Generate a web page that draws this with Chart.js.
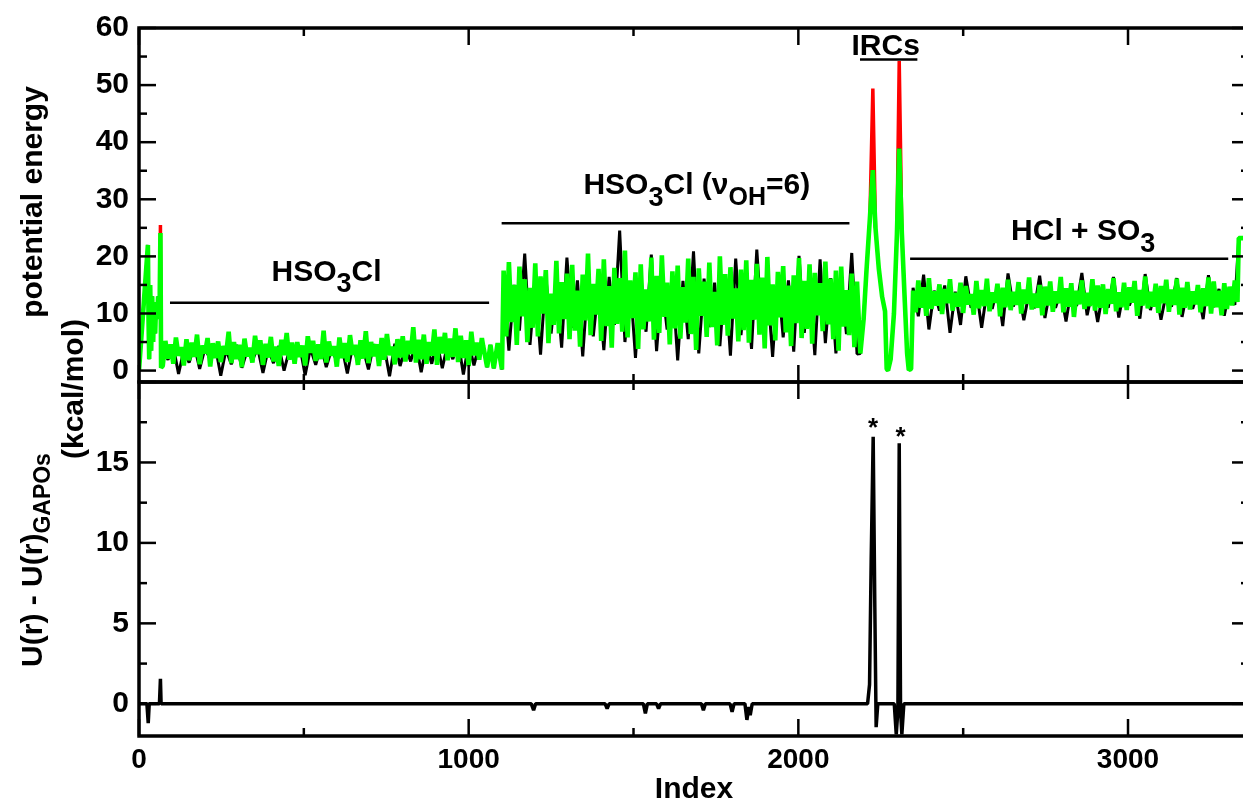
<!DOCTYPE html>
<html>
<head>
<meta charset="utf-8">
<script src="https://cdn.jsdelivr.net/npm/chart.js@4/dist/chart.umd.min.js"></script>
<style>
  html, body { margin: 0; padding: 0; overflow: hidden; background: #fff; }
  canvas { display: block; }
</style>
</head>
<body>
<canvas id="energyChart" width="1250" height="805"></canvas>
<script>
    'use strict';

    const FONT = '"Liberation Sans", Arial, Helvetica, sans-serif';
    const X_MAX = 3367;

    // tick labels
    const xTicks = [0, 1000, 2000, 3000];
    const xMinor = [500, 1500, 2500];
    const topTicks = [0, 10, 20, 30, 40, 50, 60];
    const topMinor = [5, 15, 25, 35, 45, 55];
    const botTicks = [0, 5, 10, 15];
    const botMinor = [2.5, 7.5, 12.5, 17.5];

    // first trajectory start (shared by black and green)
    const startIdx = [0, 27, 29, 31, 34, 37, 40, 43, 46, 49, 52, 55, 58, 61, 63, 65, 67];
    const startVals = [0, 22, 8.6, 2, 15, 3.5, 13, 5, 12, 6.5, 12, 9, 13, 11, 14, 24.1, 0.5];

    // HSO3Cl region, green sampled every 8, black every 16 (from index 72)
    const greenHSO = [
        0.8, 5.2, 2.1, 4.6, 1.2, 5.8, 2.6, 4.1, 0.9, 5.5,
        1.8, 4.9, 2.4, 6.3, 1.1, 4.4, 3.0, 5.7, 0.7, 4.8,
        2.2, 5.1, 1.5, 4.3, 2.8, 6.8, 1.3, 5.0, 2.0, 4.5,
        0.6, 5.6, 2.5, 4.0, 1.4, 6.1, 2.9, 5.3, 1.0, 4.7,
        2.3, 5.9, 1.6, 4.2, 0.8, 5.4, 2.7, 6.6, 1.9, 4.9,
        1.2, 5.0, 2.4, 4.4, 0.9, 6.0, 3.1, 5.2, 1.7, 4.6,
        2.0, 7.0, 1.4, 5.1, 2.6, 4.3, 0.7, 5.8, 2.2, 4.8,
        1.5, 6.2, 2.8, 4.5, 1.0, 5.3, 2.1, 6.9, 1.3, 5.0,
        2.5, 4.6, 0.8, 5.7, 1.9, 6.4, 2.7, 4.2, 1.1, 5.5,
        2.3, 6.0, 1.6, 5.2, 2.9, 7.6, 1.4, 5.4, 2.0, 6.3,
        1.2, 5.0, 2.6, 7.2, 1.0, 5.9, 3.0, 6.6, 1.8, 5.6,
        2.4, 7.4, 1.5, 6.1, 2.2, 5.3, 0.8, 6.8, 2.7, 4.9,
        1.9, 5.7
    ];
    const blackHSO = [
        3.8, 1.9, 4.2, -0.6, 3.6, 1.4, 4.4, 0.3, 3.9, 2.0,
        4.1, -0.9, 3.7, 1.1, 4.5, 0.5, 3.5, 1.8, 4.0, -0.4,
        3.8, 1.3, 4.3, 0.0, 3.6, 2.1, 4.2, -0.8, 3.9, 1.0,
        4.4, 0.6, 3.7, 1.7, 4.0, -0.5, 4.3, 1.5, 3.8, 0.2,
        4.6, 1.9, 4.1, -1.0, 4.7, 0.8, 4.2, 1.6, 4.9, -0.3,
        4.5, 1.2, 5.0, 0.4, 4.6, 2.0, 5.2, -0.7, 4.8, 0.9,
        4.5
    ];

    // damped wave before the excitation (shared)
    const waveIdx = [1044, 1050, 1056, 1061, 1066, 1071, 1076, 1082, 1088, 1094, 1101];
    const waveVals = [4.3, 2.5, 0.6, 2.5, 4.5, 2.5, 0.4, 2.6, 4.8, 2.6, 0.2];

    // HSO3Cl (vOH=6) region, from index 1106
    const greenExc = [
        17.5, 6.0, 19.0, 8.5, 15.0, 4.5, 18.2, 9.5, 16.0, 5.0,
        14.5, 7.5, 18.8, 6.0, 16.5, 10.0, 17.6, 4.8, 13.5, 8.0,
        19.2, 6.5, 15.5, 9.0, 17.0, 5.5, 18.5, 7.0, 14.0, 4.2,
        16.8, 8.8, 20.5, 6.2, 15.2, 9.8, 17.8, 5.2, 19.5, 7.8,
        14.8, 4.0, 18.0, 8.2, 16.2, 6.8, 21.0, 5.8, 15.8, 9.2,
        17.2, 3.8, 18.6, 7.2, 14.2, 8.6, 19.8, 5.4, 16.6, 6.6,
        20.2, 9.4, 15.4, 4.6, 17.4, 7.4, 18.4, 5.6, 14.6, 8.4,
        19.6, 6.4, 16.4, 3.6, 17.9, 9.6, 15.6, 5.9, 18.9, 7.6,
        13.8, 4.4, 20.0, 8.0, 16.9, 6.1, 18.1, 9.1, 14.4, 5.1,
        17.7, 7.1, 19.3, 4.9, 15.9, 8.9, 18.7, 6.3, 16.3, 3.9,
        19.9, 7.9, 15.1, 5.3, 17.3, 9.3, 18.3, 6.7, 14.9, 4.3,
        16.7, 8.3, 19.7, 5.7, 15.7, 7.3, 18.6, 4.7, 17.1, 9.7,
        15.3, 6.9, 19.1, 8.1, 16.1, 5.5, 17.5, 3.5, 18.2, 7.7,
        14.1, 6.2, 17.0, 4.1, 15.6
    ];
    const blackExc = [
        16.0, 3.5, 15.0, 7.0, 20.5, 4.5, 15.5, 2.8, 16.5, 6.5,
        15.2, 4.0, 19.8, 7.5, 15.8, 2.5, 16.2, 6.0, 15.0, 3.6,
        16.4, 8.0, 24.5, 5.0, 15.6, 2.2, 16.8, 6.8, 20.3, 3.4,
        15.3, 7.2, 16.0, 1.8, 15.7, 5.5, 20.9, 3.0, 16.1, 7.6,
        15.4, 4.3, 16.6, 2.6, 19.6, 6.2, 15.9, 3.8, 21.2, 7.0,
        15.1, 2.4, 16.3, 5.8, 15.8, 3.3, 20.1, 6.6, 16.0, 2.7,
        19.5, 4.8, 16.2, 3.0, 15.5, 6.4, 20.6, 2.9
    ];

    // IRC paths (shared by black and green)
    const ircIdx = [2188, 2198, 2207, 2217, 2226, 2234, 2244, 2254, 2263, 2268, 2272,
        2280, 2290, 2299, 2306, 2314, 2323, 2330, 2335, 2342];
    const ircVals = [3, 9, 17.8, 26.6, 35.1, 25, 17.9, 13, 10.4, 0.3, 0,
        2, 10, 23.8, 38.9, 24, 12, 3, 0.1, 0.3];

    // red reference energies where they stand above green
    const redIdx = [61, 63, 65, 67, null, 2217, 2226, 2234, null, 2299, 2306, 2314];
    const redVals = [11, 14, 25.5, 0.5, null, 26.6, 49.4, 25, null, 23.8, 54.2, 24];

    // HCl + SO3 region, from index 2348
    const greenProd = [
        14.0, 10.2, 15.8, 11.0, 14.6, 9.6, 16.2, 10.8, 13.9, 11.4,
        15.1, 9.9, 14.3, 11.8, 16.0, 10.5, 13.6, 11.2, 15.4, 10.1,
        14.8, 11.6, 13.4, 9.8, 15.7, 10.9, 14.1, 11.3, 16.1, 10.4,
        13.7, 11.9, 15.2, 9.5, 14.5, 11.1, 15.9, 10.6, 13.8, 11.5,
        15.5, 10.0, 14.2, 11.7, 16.3, 10.7, 13.5, 11.0, 15.0, 9.7,
        14.7, 11.4, 15.6, 10.3, 13.9, 11.8, 16.4, 10.2, 14.4, 11.2,
        15.3, 9.4, 14.0, 11.6, 15.8, 10.8, 13.6, 11.3, 16.0, 10.5,
        14.9, 11.0, 15.1, 9.9, 14.3, 11.7, 16.2, 10.4, 13.7, 11.1,
        15.4, 10.6, 14.6, 11.9, 15.7, 9.6, 14.1, 11.4, 16.5, 10.9,
        13.8, 11.2, 15.2, 10.1, 14.8, 11.8, 15.9, 10.3, 14.2, 11.5,
        16.1, 9.8, 14.5, 11.0, 15.5, 10.7, 13.9, 11.6, 15.0, 10.2,
        14.4, 11.3, 16.3, 10.0, 15.6, 11.1, 14.0, 9.7, 15.3, 10.8,
        14.7, 11.4, 15.8, 12.0
    ];
    const blackProd = [
        14.5, 9.5, 16.8, 7.2, 14.0, 10.5, 14.9, 6.6, 13.8, 8.0,
        16.5, 11.0, 14.2, 7.5, 13.9, 10.8, 14.6, 7.8, 17.0, 11.2,
        14.1, 8.8, 13.7, 10.9, 16.6, 9.2, 14.3, 11.0, 13.9, 8.6,
        14.4, 11.3, 17.1, 9.7, 14.0, 8.5, 13.8, 11.0, 16.4, 9.3,
        14.2, 11.4, 13.9, 9.1, 16.9, 10.6, 14.5, 8.9, 13.6, 11.2,
        16.2, 9.4, 14.1, 10.8, 13.8, 9.0, 16.7, 11.1, 14.3, 9.6,
        14.2, 11.5
    ];

    // last trajectory start at the right edge
    const endIdx = [3336, 3367];
    const endVals = [23.2, 23.2];

    // bottom panel: U(r) - U(r)GAPOs
    const diffIdx = [0, 24, 28, 31, 62, 65, 67, 1190, 1197, 1203, 1414, 1420, 1426,
        1530, 1536, 1542, 1570, 1576, 1582, 1706, 1712, 1718, 1793, 1799, 1805,
        1838, 1844, 1850, 1854, 1860, 2210, 2216, 2221, 2227, 2232, 2236, 2241,
        2291, 2297, 2302, 2306, 2310, 2314, 2320, 3367];
    const diffVals = [0, 0, -1.2, 0, 0, 1.55, 0, 0, -0.4, 0, 0, -0.3, 0,
        0, -0.6, 0, 0, -0.3, 0, 0, -0.4, 0, 0, -0.5, 0,
        0, -1.0, -0.2, -0.7, 0, 0, 1.2, 9, 16.6, 6, -1.45, 0,
        0, -1.9, -0.4, 16.2, -0.4, -1.9, 0, 0];

    // annotations (data units)
    const notes = [
        { parts: [['HSO', 0], ['3', 1], ['Cl', 0]], x: 569, y: 15.7 },
        { parts: [['HSO', 0], ['3', 1], ['Cl (', 0], ['\u03BD', 0], ['OH', 2], ['=6)', 0]], x: 1692, y: 30.9 },
        { parts: [['IRCs', 0]], x: 2265, y: 55.3 },
        { parts: [['HCl + SO', 0], ['3', 1]], x: 2864, y: 22.8 }
    ];
    const bars = [[94, 1062, 11.9], [1100, 2155, 25.8], [2187, 2361, 54.5], [2339, 3304, 19.6]];
    const stars = [[2227, 17.4], [2310, 16.8]];

    function pts(idx, vals) {
        return idx.map((x, i) => ({ x: x, y: vals[i] }));
    }
    function stepIdx(start, step, n) {
        return Array.from({ length: n }, (_, i) => start + i * step);
    }

    const greenData = [].concat(
        pts(startIdx, startVals),
        pts(stepIdx(72, 8, greenHSO.length), greenHSO),
        pts(waveIdx, waveVals),
        pts(stepIdx(1106, 8, greenExc.length), greenExc),
        pts(ircIdx, ircVals),
        pts(stepIdx(2348, 8, greenProd.length), greenProd),
        pts(endIdx, endVals)
    );
    const blackData = [].concat(
        pts(startIdx, startVals),
        pts(stepIdx(72, 16, blackHSO.length), blackHSO),
        pts(waveIdx, waveVals),
        pts(stepIdx(1106, 16, blackExc.length), blackExc),
        pts(ircIdx, ircVals),
        pts(stepIdx(2348, 16, blackProd.length), blackProd),
        pts(endIdx, endVals)
    );
    // null entries break the red line between its visible pieces
    const redData = redIdx.map((x, i) => ({ x: x === null ? redIdx[i - 1] + 1 : x, y: redVals[i] }));

    function richText(ctx, parts, x, y) {
        const sizes = [30, 27, 25];
        const drops = [0, 11.5, 11];
        let w = 0;
        parts.forEach(([t, k]) => { ctx.font = 'bold ' + sizes[k] + 'px ' + FONT; w += ctx.measureText(t).width; });
        let xx = x - w / 2;
        ctx.textAlign = 'left';
        ctx.textBaseline = 'alphabetic';
        parts.forEach(([t, k]) => {
            ctx.font = 'bold ' + sizes[k] + 'px ' + FONT;
            ctx.fillText(t, xx, y + drops[k]);
            xx += ctx.measureText(t).width;
        });
    }

    const framePlugin = {
        id: 'frame',
        afterDatasetsDraw(chart) {
            const { ctx, chartArea: a, scales } = chart;
            const sx = scales.x;
            ctx.save();
            ctx.strokeStyle = '#000';
            const tick = (px, py, dx, dy) => {
                ctx.beginPath(); ctx.moveTo(px, py); ctx.lineTo(px + dx, py + dy); ctx.stroke();
            };
            [[scales.yTop, topTicks, topMinor], [scales.yBot, botTicks.concat([20]), botMinor]].forEach(([sy, major, minor]) => {
                ctx.lineWidth = 2.5;
                xTicks.forEach(v => { const p = sx.getPixelForValue(v); tick(p, sy.bottom, 0, -17); tick(p, sy.top, 0, 17); });
                xMinor.forEach(v => { const p = sx.getPixelForValue(v); tick(p, sy.bottom, 0, -8); tick(p, sy.top, 0, 8); });
                major.forEach(v => { const p = sy.getPixelForValue(v); tick(a.left, p, 17, 0); tick(a.right, p, -17, 0); });
                minor.forEach(v => { const p = sy.getPixelForValue(v); tick(a.left, p, 8, 0); tick(a.right, p, -8, 0); });
                ctx.lineWidth = 3.5;
                ctx.strokeRect(a.left, sy.top, a.right - a.left, sy.bottom - sy.top);
            });
            ctx.restore();
        },
        afterDraw(chart) {
            const { ctx, scales } = chart;
            const sx = scales.x, sy = scales.yTop, sb = scales.yBot;
            ctx.save();
            ctx.fillStyle = '#000';
            ctx.strokeStyle = '#000';
            ctx.lineWidth = 2.5;
            bars.forEach(([x0, x1, y]) => {
                const py = sy.getPixelForValue(y);
                ctx.beginPath(); ctx.moveTo(sx.getPixelForValue(x0), py); ctx.lineTo(sx.getPixelForValue(x1), py); ctx.stroke();
            });
            notes.forEach(n => richText(ctx, n.parts, sx.getPixelForValue(n.x), sy.getPixelForValue(n.y)));

            ctx.font = 'bold 26px ' + FONT;
            ctx.textAlign = 'center';
            ctx.textBaseline = 'alphabetic';
            stars.forEach(([x, y]) => ctx.fillText('*', sx.getPixelForValue(x), sb.getPixelForValue(y) + 12));

            // y axis titles, rotated
            const rot = (bx, cy, parts) => {
                ctx.save();
                ctx.translate(bx, cy);
                ctx.rotate(-Math.PI / 2);
                let w = 0;
                parts.forEach(([t, s]) => { ctx.font = 'bold ' + (s ? 23 : 30) + 'px ' + FONT; w += ctx.measureText(t).width; });
                let xx = -w / 2;
                ctx.textAlign = 'left';
                parts.forEach(([t, s]) => {
                    ctx.font = 'bold ' + (s ? 23 : 30) + 'px ' + FONT;
                    ctx.fillText(t, xx, s ? 8 : 0);
                    xx += ctx.measureText(t).width;
                });
                ctx.restore();
            };
            rot(42, 202, [['potential energy', 0]]);
            rot(83, 389, [['(kcal/mol)', 0]]);
            rot(42, 560, [['U(r) - U(r)', 0], ['GAPOs', 1]]);
            ctx.restore();
        }
    };

    const tickFont = { family: FONT, size: 30, weight: 'bold' };

    new Chart(document.getElementById('energyChart'), {
        type: 'line',
        data: {
            datasets: [
                { label: 'red', data: redData, yAxisID: 'yTop', borderColor: '#ff0000', borderWidth: 3.5, order: 3 },
                { label: 'black', data: blackData, yAxisID: 'yTop', borderColor: '#000000', borderWidth: 3, order: 2 },
                { label: 'green', data: greenData, yAxisID: 'yTop', borderColor: '#00ff00', borderWidth: 4.6, order: 1 },
                { label: 'diff', data: pts(diffIdx, diffVals), yAxisID: 'yBot', borderColor: '#000000', borderWidth: 3.5, order: 0 }
            ]
        },
        options: {
            responsive: false,
            animation: false,
            devicePixelRatio: 1,
            layout: { padding: { top: 25, right: 1, bottom: 0, left: 0 } },
            plugins: { legend: { display: false }, tooltip: { enabled: false } },
            elements: {
                point: { radius: 0 },
                line: { tension: 0, borderJoinStyle: 'bevel', fill: false }
            },
            scales: {
                x: {
                    type: 'linear', min: 0, max: X_MAX, position: 'bottom',
                    grid: { display: false, drawTicks: false }, border: { display: false },
                    afterBuildTicks: s => { s.ticks = xTicks.map(v => ({ value: v })); },
                    afterFit: s => { s.height = 69; },
                    ticks: { font: { family: FONT, size: 28, weight: 'bold' }, color: '#000', padding: 7, maxRotation: 0, autoSkip: false, callback: v => String(v) },
                    title: { display: true, text: 'Index', color: '#000', font: { family: FONT, size: 30, weight: 'bold', lineHeight: 1 }, padding: { top: 0, bottom: 0 } }
                },
                yBot: {
                    type: 'linear', min: -2, max: 20, position: 'left', stack: 'panels', stackWeight: 1,
                    grid: { display: false, drawTicks: false }, border: { display: false },
                    afterBuildTicks: s => { s.ticks = botTicks.map(v => ({ value: v })); },
                    afterFit: s => { s.width = 139; },
                    ticks: { font: tickFont, color: '#000', padding: 10, autoSkip: false, callback: v => String(v) }
                },
                yTop: {
                    type: 'linear', min: -2, max: 60, position: 'left', stack: 'panels', stackWeight: 1,
                    grid: { display: false, drawTicks: false }, border: { display: false },
                    afterBuildTicks: s => { s.ticks = topTicks.map(v => ({ value: v })); },
                    afterFit: s => { s.width = 139; },
                    ticks: { font: tickFont, color: '#000', padding: 10, autoSkip: false, callback: v => String(v) }
                }
            }
        },
        plugins: [framePlugin]
    });
</script>
</body>
</html>
